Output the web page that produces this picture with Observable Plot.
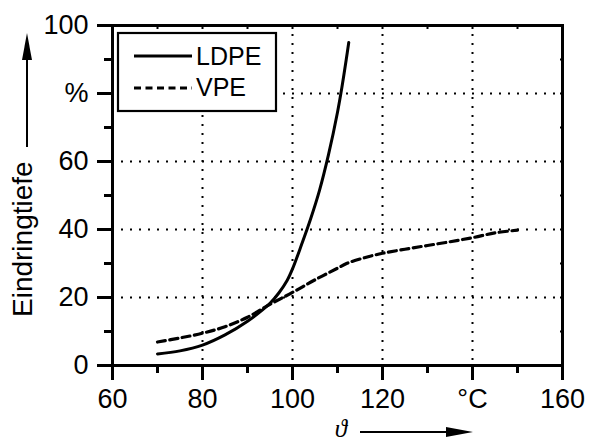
<!DOCTYPE html>
<html><head><meta charset="utf-8">
<script src="https://cdn.jsdelivr.net/npm/d3@7"></script>
<script src="https://cdn.jsdelivr.net/npm/@observablehq/plot@0.6"></script>
<style>body{margin:0;background:#fff;}</style>
</head><body><div id="chart"></div>
<script>
// ---- data ----
const ldpeX = [70, 75, 80, 85, 90, 95, 97, 98.8, 100, 102, 104, 106, 108, 110, 111, 112, 112.5];
const ldpeY = [3.4, 4.3, 6.0, 9.0, 13.0, 18.3, 21.4, 25.0, 28.4, 35.5, 43.0, 51.5, 62.0, 74.5, 82.0, 90.5, 95.0];
const vpeX = [70, 75, 80, 85, 90, 95, 100, 105, 110, 112, 116, 120, 125, 130, 135, 140, 145, 150];
const vpeY = [6.9, 8.1, 9.5, 11.4, 14.2, 18.0, 21.5, 25.2, 28.6, 30.0, 31.7, 33.0, 34.2, 35.3, 36.4, 37.6, 39.0, 39.8];
const seriesNames = ["LDPE", "VPE"];
const xTicks = [60, 80, 100, 120, 140, 160];
const xTickLabels = ["60", "80", "100", "120", "°C", "160"];
const yTicks = [0, 20, 40, 60, 80, 100];
const yTickLabels = ["0", "20", "40", "60", "%", "100"];
const xMinor = [70, 90, 110, 130, 150];
const yMinor = [10, 30, 50, 70, 90];
const xGrid = [80, 100, 120, 140];
const yGrid = [20, 40, 60, 80];
const yTitle = "Eindringtiefe";
const xTitle = "ϑ";

const ldpe = ldpeX.map((x, i) => ({x, y: ldpeY[i]}));
const vpe = vpeX.map((x, i) => ({x, y: vpeY[i]}));

const font = "'Liberation Sans', Arial, Helvetica, sans-serif";
const dot = {stroke: "#000", strokeOpacity: 1, strokeWidth: 2, strokeDasharray: "2,7"};
const ax = {stroke: "#000", strokeWidth: 3, label: null};

const plot = Plot.plot({
  width: 590, height: 444,
  marginLeft: 112, marginRight: 28, marginTop: 25, marginBottom: 79,
  style: {fontFamily: font, fontSize: "27px", color: "#000", background: "#fff", overflow: "visible"},
  x: {domain: [60, 160]},
  y: {domain: [0, 100]},
  marks: [
    Plot.gridX(xGrid, dot),
    Plot.gridY(yGrid, dot),
    Plot.line(ldpe, {x: "x", y: "y", curve: "catmull-rom", stroke: "#000", strokeWidth: 3}),
    Plot.line(vpe, {x: "x", y: "y", curve: "catmull-rom", stroke: "#000", strokeWidth: 3.2, strokeDasharray: "8,4.5"}),
    Plot.frame({stroke: "#000", strokeWidth: 3}),
    Plot.axisX(xTicks, {...ax, tickSize: 15, tickPadding: 8, tickFormat: d => xTickLabels[xTicks.indexOf(d)]}),
    Plot.axisX(xMinor, {...ax, tickSize: 8, tickFormat: () => ""}),
    Plot.axisY(yTicks, {...ax, tickSize: 15, tickPadding: 9, tickFormat: d => yTickLabels[yTicks.indexOf(d)]}),
    Plot.axisY(yMinor, {...ax, tickSize: 8, tickFormat: () => ""}),
    Plot.axisX(xTicks.concat(xMinor), {...ax, strokeWidth: 2, anchor: "top", tickSize: -3, tickFormat: () => ""}),
    Plot.axisY(yTicks.concat(yMinor), {...ax, strokeWidth: 2, anchor: "right", tickSize: -3, tickFormat: () => ""})
  ]
});
document.getElementById("chart").appendChild(plot);

// ---- legend and titles ----
const svg = d3.select(plot);
const g = svg.append("g").attr("text-anchor", "start");
g.append("rect").attr("x", 118).attr("y", 33).attr("width", 158).attr("height", 78)
  .attr("fill", "#fff").attr("stroke", "#000").attr("stroke-width", 2.2);
g.append("line").attr("x1", 134).attr("x2", 192).attr("y1", 56).attr("y2", 56)
  .attr("stroke", "#000").attr("stroke-width", 3);
g.append("line").attr("x1", 134).attr("x2", 192).attr("y1", 88).attr("y2", 88)
  .attr("stroke", "#000").attr("stroke-width", 3.2).attr("stroke-dasharray", "7,4.5");
seriesNames.forEach((n, i) => {
  g.append("text").attr("x", 196).attr("y", 65 + i * 31).attr("text-anchor", "start")
    .attr("font-family", font).attr("font-size", 25).attr("fill", "#000").text(n);
});
// y title with arrow
g.append("text").attr("transform", "translate(32,317) rotate(-90)").attr("text-anchor", "start")
  .attr("font-family", font).attr("font-size", 28).attr("fill", "#000").text(yTitle);
g.append("line").attr("x1", 27).attr("x2", 27).attr("y1", 147).attr("y2", 55)
  .attr("stroke", "#000").attr("stroke-width", 2);
g.append("path").attr("d", "M27,33 L22,60 L32,60 Z").attr("fill", "#000");
// x title with arrow
g.append("text").attr("x", 341).attr("y", 437).attr("text-anchor", "middle")
  .attr("font-family", "'Liberation Serif','DejaVu Serif',serif").attr("font-style", "italic")
  .attr("font-size", 25).attr("fill", "#000").text(xTitle);
g.append("line").attr("x1", 360).attr("x2", 455).attr("y1", 432).attr("y2", 432)
  .attr("stroke", "#000").attr("stroke-width", 2);
g.append("path").attr("d", "M473,432 L446,427 L446,437 Z").attr("fill", "#000");
</script>
</body></html>
